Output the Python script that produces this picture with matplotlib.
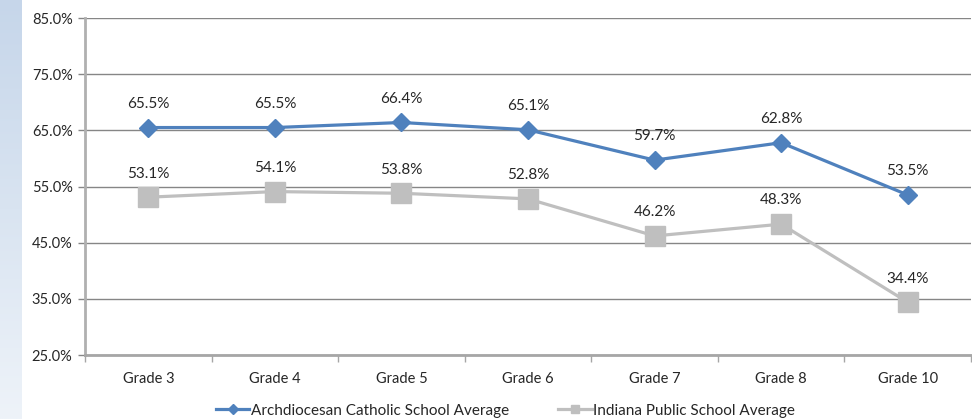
import numpy as np
import matplotlib.pyplot as plt
from matplotlib.lines import Line2D

grades = ["Grade 3", "Grade 4", "Grade 5", "Grade 6", "Grade 7", "Grade 8", "Grade 10"]
catholic = [65.5, 65.5, 66.4, 65.1, 59.7, 62.8, 53.5]
public = [53.1, 54.1, 53.8, 52.8, 46.2, 48.3, 34.4]
y_ticks = [25, 35, 45, 55, 65, 75, 85]

blue = "#4f81bd"
grey = "#bfbfbf"
text_col = "#262626"

plt.rcParams["font.family"] = ["Lato", "DejaVu Sans"]

fig = plt.figure(figsize=(9.72, 4.19), dpi=100)

# light blue strip on the left edge
bg = fig.add_axes([0, 0, 0.022, 1])
grad = np.linspace(0, 1, 256).reshape(-1, 1)
bg.imshow(grad, aspect="auto", cmap=plt.matplotlib.colors.LinearSegmentedColormap.from_list(
    "strip", ["#c6d6ea", "#d9e4f1", "#eef3f9"]), extent=[0, 1, 0, 1])
bg.axis("off")

ax = fig.add_axes([0.0875, 0.1527, 0.9115, 0.8043])
x = np.arange(len(grades))

ax.plot(x, catholic, color=blue, lw=2.3, marker="D", ms=8.8, zorder=3)
ax.plot(x, public, color=grey, lw=2.3, marker="s", ms=14, zorder=2)

for xi, v in zip(x, catholic):
    ax.annotate(f"{v:.1f}%", (xi, v), xytext=(0, 12), textcoords="offset points",
                ha="center", va="bottom", fontsize=11, color=text_col)
for xi, v in zip(x, public):
    ax.annotate(f"{v:.1f}%", (xi, v), xytext=(0, 12), textcoords="offset points",
                ha="center", va="bottom", fontsize=11, color=text_col)

ax.set_xlim(-0.5, len(grades) - 0.5)
ax.set_ylim(25, 85)
ax.set_yticks(y_ticks)
ax.set_yticklabels([f"{t:.1f}%" for t in y_ticks], fontsize=10.5, color=text_col)
ax.set_xticks(x)
ax.set_xticklabels(grades, fontsize=10.5, color=text_col)
ax.tick_params(axis="x", length=0, pad=12)
ax.set_xticks(np.arange(-0.5, len(grades)), minor=True)
ax.tick_params(axis="x", which="minor", length=5, color="#a6a6a6", width=1)
ax.tick_params(axis="y", length=5, color="#868686", width=1, pad=4)

ax.grid(axis="y", color="#868686", lw=1)
ax.set_axisbelow(True)
for s in ["top", "right"]:
    ax.spines[s].set_visible(False)
ax.spines["left"].set_color("#b0b0b0")
ax.spines["left"].set_linewidth(2)
ax.spines["bottom"].set_color("#a6a6a6")
ax.spines["bottom"].set_linewidth(2)

handles = [
    Line2D([], [], color=blue, lw=2.3, marker="D", ms=5),
    Line2D([], [], color=grey, lw=2.3, marker="s", ms=6),
]
fig.legend(handles, ["Archdiocesan Catholic School Average", "Indiana Public School Average"],
           loc="lower center", bbox_to_anchor=(0.52, -0.03), ncol=2, frameon=False,
           fontsize=11, handlelength=2.2, handletextpad=0.1, columnspacing=3.2,
           labelcolor=text_col)

fig.savefig("out.png", dpi=100)
